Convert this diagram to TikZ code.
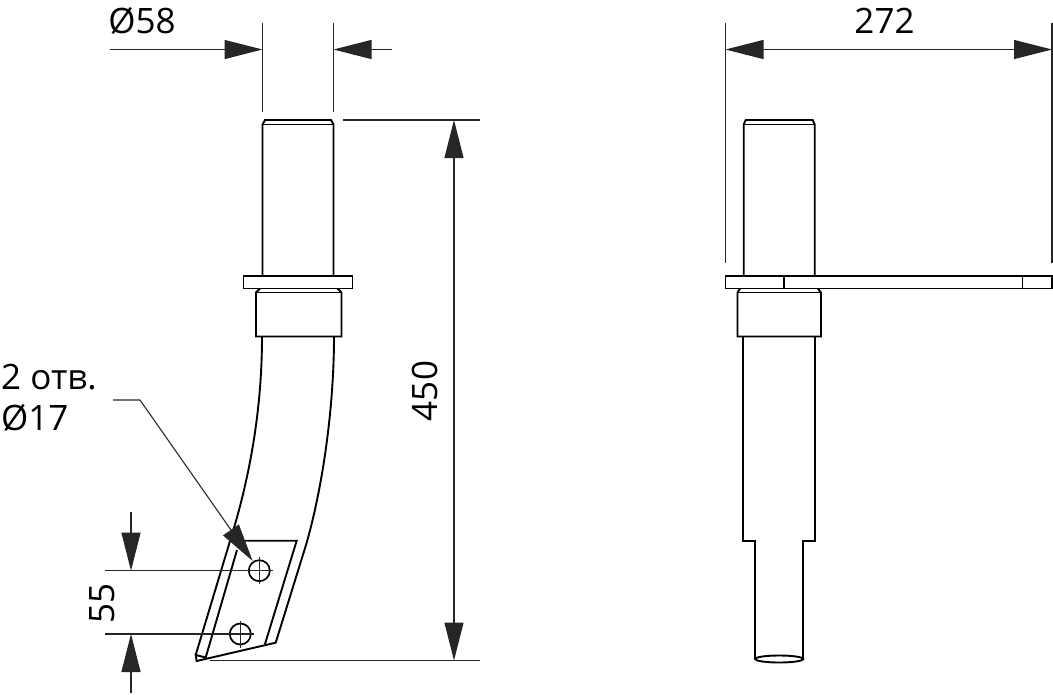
\documentclass[tikz,border=0pt]{standalone}
\usepackage{fontspec}
\setmainfont{Open Sans}
\usetikzlibrary{arrows.meta}
\tikzset{
  part/.style={line width=1.9pt, line join=miter},
  dimline/.style={line width=1.1pt, black!85},
  dimarrow/.style={dimline, -{Triangle[length=38pt,width=19pt]}},
  dimtext/.style={inner sep=0pt, font=\fontsize{35}{40}\selectfont},
}
\begin{document}
\begin{tikzpicture}[x=1pt,y=-1pt]
    \useasboundingbox (0,0) rectangle (1053,694);

    % Left view: upper shaft, flange and collar
    \draw[part] (262.5,276) -- (262.5,124.5) -- (265,120) -- (331,120) -- (333.5,124.5) -- (333.5,276);
    \draw[part] (262.5,124.5) -- (333.5,124.5);
    \draw[part] (243.5,276) rectangle (352.5,288.5);
    \draw[part] (260,288.5) -- (256,292.5) -- (256,336.5) -- (341.5,336.5) -- (341.5,292.5) -- (337.5,288.5);
    \draw[part] (256,292.5) -- (341.5,292.5);

    % Left view: bent blade
    \draw[part] (262,336.5) .. controls (262,420) and (246,490) .. (230,541) -- (195.7,655);
    \draw[part] (334,336.5) .. controls (334,410) and (322,490) .. (306,545) -- (275.7,642.7) -- (196.7,661) -- (195.7,655) -- (205.7,657.5) -- (237,550);
    \draw[part] (245,540.7) -- (296.7,540.7) -- (265,644);

    % Left view: holes
    \coordinate (hole1) at (259.3,570.7);
    \coordinate (hole2) at (240.3,634);
    \foreach \h in {hole1,hole2} {
        \draw[part, line width=1.7pt] (\h) circle (10.5);
        \draw[dimline] ([yshift=-13.5pt]\h) -- ([yshift=13.5pt]\h);
    }
    \draw[dimline] (105,570.7) -- (272.5,570.7);
    \draw[dimline] (105,634) -- (253.5,634);

    % Dimension: diameter 58
    \draw[dimline] (262.5,23) -- (262.5,112);
    \draw[dimline] (333.5,23) -- (333.5,112);
    \draw[dimarrow] (110,49.5) -- (262.5,49.5);
    \draw[dimarrow] (392,49.5) -- (333.5,49.5);
    \node[dimtext] (d58) at (142,20.5) {Ø58};

    % Dimension: height 450
    \draw[dimline] (343,120) -- (480,120);
    \draw[dimline] (210,660.5) -- (480,660.5);
    \draw[dimarrow, {Triangle[length=38pt,width=19pt]}-{Triangle[length=38pt,width=19pt]}] (454,120) -- (454,660.5);
    \node[dimtext, rotate=90] (d450) at (424.5,391) {450};

    % Dimension: hole spacing 55
    \draw[dimarrow] (131,512) -- (131,570.7);
    \draw[dimarrow] (131,693) -- (131,634);
    \node[dimtext, rotate=90] (d55) at (102,603) {55};

    % Leader for the holes
    \draw[dimarrow] (113,400) -- (140,400) -- (252.7,561);
    \node[dimtext, anchor=base west] (holes) at (1,389) {2 отв.};
    \node[dimtext, anchor=base west] (holedia) at (1,430) {Ø17};

    % Right view: upper shaft, flange and collar
    \draw[part] (743.7,276) -- (743.7,124.5) -- (745.7,120) -- (812.7,120) -- (814.7,124.5) -- (814.7,276);
    \draw[part] (743.7,124.5) -- (814.7,124.5);
    \draw[part] (725.5,276) rectangle (1052,288.5);
    \draw[part] (783.7,276) -- (783.7,288.5);
    \draw[part, line width=1.2pt] (1022.3,276) -- (1022.3,288.5);
    \draw[part] (740,288.5) -- (737.5,292.5) -- (737.5,336.5) -- (821,336.5) -- (821,292.5) -- (817.7,288.5);
    \draw[part] (737.5,292.5) -- (821,292.5);

    % Right view: lower stem
    \draw[part] (743,336.5) -- (743,540.7) -- (755,540.7) -- (755,659);
    \draw[part] (815,336.5) -- (815,540.7) -- (803.3,540.7) -- (803.3,659);
    \draw[part] (779.2,659) ellipse (24 and 3.5);

    % Dimension: width 272
    \draw[dimline] (725.5,23) -- (725.5,263);
    \draw[dimline] (1052,23) -- (1052,263);
    \draw[dimarrow, {Triangle[length=38pt,width=19pt]}-{Triangle[length=38pt,width=19pt]}] (725.5,49.5) -- (1052,49.5);
    \node[dimtext] (d272) at (884.5,21) {272};
\end{tikzpicture}
\end{document}
